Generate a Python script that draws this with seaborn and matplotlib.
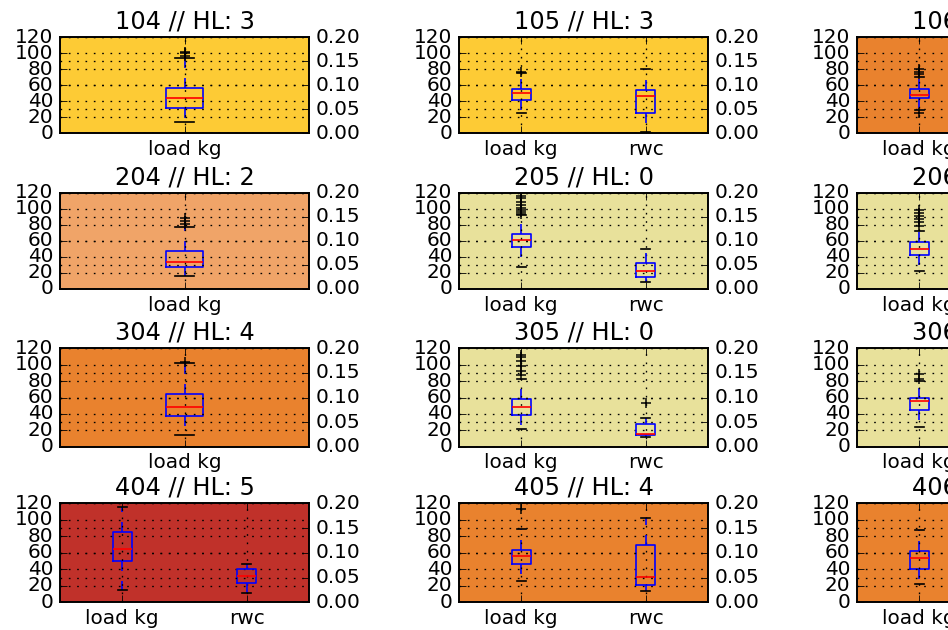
import matplotlib
matplotlib.use("Agg")
import matplotlib.pyplot as plt
import numpy as np
import pandas as pd
import seaborn as sns

plt.style.use("classic")
plt.rcParams["font.family"] = ["DejaVu Sans"]
plt.rcParams["figure.facecolor"] = "white"
plt.rcParams["savefig.facecolor"] = "white"

# ---------------- data ----------------
panels = ["104", "105", "106", "204", "205", "206", "304", "305", "306", "404", "405", "406"]
hl_levels = [3, 3, 4, 2, 0, 0, 4, 0, 0, 5, 4, 4]
has_rwc_col = [False, True, True, False, True, True, False, True, True, True, True, True]

# box summaries: [whisker low, q1, median, q3, whisker high]
load_stats = {
    "104": [14, 32, 44, 57, 94],
    "105": [26, 42, 50, 56, 75],
    "106": [29, 44, 48, 56, 71],
    "204": [16, 28, 34, 47, 77],
    "205": [27, 52, 61, 68, 92],
    "206": [22, 42, 50, 59, 72],
    "304": [14, 37, 48, 64, 102],
    "305": [21, 39, 49, 58, 83],
    "306": [24, 45, 56, 59, 80],
    "404": [15, 50, 65, 85, 115],
    "405": [26, 46, 56, 63, 89],
    "406": [22, 40, 54, 62, 88],
}
load_fliers = {
    "104": [97, 100, 102],
    "105": [77],
    "106": [25, 74, 77, 80],
    "204": [81, 85, 89],
    "205": [94, 96, 98, 101, 105, 109, 113, 116],
    "206": [79, 83, 87, 91, 95, 98],
    "304": [103],
    "305": [88, 92, 98, 104, 110, 112],
    "306": [83, 89],
    "404": [],
    "405": [113],
    "406": [],
}
rwc_stats = {
    "105": [0.003, 0.043, 0.078, 0.090, 0.134],
    "205": [0.0145, 0.024, 0.037, 0.054, 0.083],
    "305": [0.019, 0.024, 0.026, 0.046, 0.059],
    "404": [0.019, 0.038, 0.053, 0.067, 0.077],
    "405": [0.022, 0.035, 0.051, 0.116, 0.170],
}
rwc_fliers = {
    "305": [0.0895],
}

hl_colors = {0: "#E8E19B", 2: "#F0A468", 3: "#FDCB35", 4: "#E9822E", 5: "#C0312A"}

col_left = [60, 459, 857]
col_width = 249
row_top = [37.3, 192.7, 348.3, 503.3]
row_bottom = [133.3, 289.0, 446.7, 602.3]

DPI = 120
W, H = 948, 630
fig = plt.figure(figsize=(W / DPI, H / DPI), dpi=DPI)

box_kw = dict(
    width=0.15, whis=(0, 100), fill=False, color="blue", linewidth=1,
    showfliers=False,
    medianprops=dict(color="red", linewidth=1),
    whiskerprops=dict(color="blue", linestyle="--", linewidth=1),
    capprops=dict(color="black", linewidth=1),
    boxprops=dict(color="blue", linewidth=1),
)

grid_kw = dict(color="black", linestyle=(0, (1, 4)), linewidth=0.8)


def draw(ax, label, stats, fliers, order):
    df = pd.DataFrame({"var": [label] * len(stats), "value": stats})
    sns.boxplot(data=df, x="var", y="value", order=order, ax=ax, **box_kw)
    if fliers:
        fd = pd.DataFrame({"var": [label] * len(fliers), "value": fliers})
        sns.stripplot(data=fd, x="var", y="value", order=order, ax=ax,
                      jitter=False, marker="+", color="black", size=6, linewidth=0.9)


for i, p in enumerate(panels):
    r, c = divmod(i, 3)
    left = col_left[c] / W
    bottom = (H - row_bottom[r]) / H
    height = (row_bottom[r] - row_top[r]) / H
    ax = fig.add_axes([left, bottom, col_width / W, height])
    ax2 = ax.twinx()
    order = ["load kg", "rwc"] if has_rwc_col[i] else ["load kg"]

    draw(ax, "load kg", load_stats[p], load_fliers[p], order)
    if p in rwc_stats:
        draw(ax2, "rwc", rwc_stats[p], rwc_fliers.get(p, []), order)

    ax.set_facecolor(hl_colors[hl_levels[i]])
    ax.set_xlim(-0.5, len(order) - 0.5)
    ax.set_xticks(range(len(order)))
    ax.set_xticklabels(order)
    ax.set_ylim(0, 120)
    ax.set_yticks(np.arange(0, 121, 20))
    ax.set_xlabel("")
    ax.set_ylabel("")
    ax.grid(True, **grid_kw)

    ax2.set_ylim(0, 0.2)
    ax2.set_yticks(np.arange(0, 0.201, 0.05))
    ax2.set_yticklabels([f"{v:.2f}" for v in np.arange(0, 0.201, 0.05)])
    ax2.set_xlabel("")
    ax2.set_ylabel("")
    ax2.yaxis.grid(True, **grid_kw)
    ax2.xaxis.grid(False)
    ax.set_title(f"{p} // HL: {hl_levels[i]}")

fig.savefig("out.png", dpi=DPI)
